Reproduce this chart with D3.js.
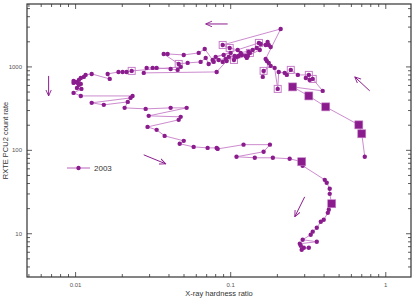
<!DOCTYPE html>
<html>
<head>
<meta charset="utf-8">
<script src="https://cdn.jsdelivr.net/npm/d3@7"></script>
<style>
  body { margin: 0; background: #fff; }
  text { font-family: "Liberation Sans", Arial, sans-serif; }
</style>
</head>
<body>
<div id="chart"></div>
<script>
// Data (time order)
var hardness = [0.732, 0.700, 0.670, 0.410, 0.319, 0.251, 0.392, 0.338, 0.323, 0.305,
  0.319, 0.271, 0.244, 0.230, 0.223, 0.204, 0.201, 0.192, 0.181, 0.163,
  0.161, 0.176, 0.171, 0.168, 0.210, 0.0888, 0.0985, 0.111, 0.127, 0.133,
  0.125, 0.105, 0.100, 0.0901, 0.0800, 0.152, 0.168, 0.176, 0.173, 0.181,
  0.156, 0.154, 0.129, 0.118, 0.109, 0.0928, 0.0765, 0.0680, 0.0622, 0.0498,
  0.0392, 0.0370, 0.0462, 0.0528, 0.0640, 0.0690, 0.0721,
  0.0777, 0.0837, 0.0888, 0.0971, 0.1061, 0.1160, 0.1387, 0.1472, 0.1306, 0.1126, 0.0942,
  0.0812, 0.0275, 0.0287,
  0.0314, 0.0333, 0.0410, 0.0455, 0.0476, 0.0230, 0.0213, 0.0201, 0.0189, 0.0161,
  0.0166, 0.0127, 0.0116, 0.0113, 0.0108, 0.0105, 0.0100, 0.0097, 0.0103, 0.0108,
  0.0097, 0.0105, 0.0102, 0.0109, 0.0097, 0.0108, 0.0233, 0.0226, 0.0127, 0.0152,
  0.0217, 0.0207, 0.0283, 0.0410, 0.0520, 0.0296, 0.0476, 0.0462, 0.0291, 0.0333,
  0.0375, 0.0498, 0.0469, 0.0577, 0.0710, 0.0812, 0.0824, 0.121, 0.179, 0.163,
  0.109, 0.143, 0.187, 0.240, 0.287, 0.291, 0.404, 0.416, 0.435, 0.435,
  0.448, 0.429, 0.423, 0.398, 0.381, 0.359, 0.338, 0.328, 0.291, 0.359,
  0.279, 0.283, 0.296, 0.319, 0.287];

var countRate = [83.7, 158, 202, 332, 449, 576, 516, 718, 699, 738,
  802, 802, 921, 802, 848, 871, 545, 973, 1028, 896,
  759, 1117, 1180, 1247, 2852, 1834, 1689, 1598, 1282, 1472,
  1354, 1213, 1472, 1392, 1318, 1939, 1834, 1834, 1993, 1736,
  1886, 1598, 1354, 1392, 1318, 1247, 1213, 1643, 1472, 1392,
  1431, 1431, 1086, 1117, 1148, 1282, 1086,
  1148, 1213, 1148, 1318, 1354, 1472, 1598, 1689, 1512, 1354, 1180,
  871, 848, 973,
  973, 973, 946, 921, 1000, 896, 871, 871, 871, 824,
  718, 824, 802, 759, 738, 699, 661, 643, 643, 626,
  680, 609, 560, 545, 488, 449, 449, 425, 371, 351,
  381, 323, 314, 323, 323, 259, 252, 232, 191, 176,
  149, 130, 120, 110, 107, 107, 104, 117, 117, 96.2,
  83.7, 81.4, 81.4, 79.2, 73.0, 65.4, 44.3, 40.8, 34.6, 30.1,
  22.9, 19.4, 17.8, 14.7, 13.9, 11.8, 10.6, 9.73, 8.48, 8.02,
  7.59, 7.18, 6.80, 6.80, 6.43];

// indices of points marked with squares
var openSquares = [7, 10, 12, 16, 19, 25, 26, 29, 31, 35, 52, 76];
var filledSquares = [1, 2, 3, 4, 5, 125, 131];

// arrows: [x0, y0, x1, y1]
var arrows = [
  [0.0956, 3273, 0.0690, 3273],
  [0.0067, 780, 0.0067, 449],
  [0.788, 516, 0.631, 759],
  [0.0275, 88.3, 0.0381, 68.9],
  [0.300, 27.7, 0.259, 16.0]
];

var xTickLabels = [0.01, 0.1, 1];
var yTickLabels = [10, 100, 1000];
var seriesName = "2003";

var svgWidth = 415, svgHeight = 301;
var margin = { top: 4, right: 4, bottom: 24, left: 27 };
var width = svgWidth - margin.left - margin.right;
var height = svgHeight - margin.top - margin.bottom;

var dark = "#8b1c8d", light = "#c67ec8";

var svg = d3.select("#chart").append("svg")
  .attr("width", svgWidth)
  .attr("height", svgHeight);

var chartGroup = svg.append("g")
  .attr("transform", `translate(${margin.left}, ${margin.top})`);

var xScale = d3.scaleLog().domain([0.00486, 1.454]).range([0, width]);
var yScale = d3.scaleLog().domain([3.03, 5680]).range([height, 0]);

// minor + major ticks
function logTicks(scale) {
  var d = scale.domain();
  return scale.ticks().filter(t => t >= d[0] && t <= d[1]);
}
function isMajor(t) {
  var l = Math.log10(t);
  return Math.abs(l - Math.round(l)) < 1e-6;
}
var xt = logTicks(xScale), yt = logTicks(yScale);

var axisColor = "#333";
var ticks = chartGroup.append("g").attr("stroke", axisColor).attr("stroke-width", 0.8);
xt.forEach(function(t) {
  var len = isMajor(t) ? 5 : 3;
  var x = xScale(t);
  ticks.append("line").attr("x1", x).attr("x2", x).attr("y1", height).attr("y2", height - len);
  ticks.append("line").attr("x1", x).attr("x2", x).attr("y1", 0).attr("y2", len);
});
yt.forEach(function(t) {
  var len = isMajor(t) ? 5 : 3;
  var y = yScale(t);
  ticks.append("line").attr("x1", 0).attr("x2", len).attr("y1", y).attr("y2", y);
  ticks.append("line").attr("x1", width).attr("x2", width - len).attr("y1", y).attr("y2", y);
});

chartGroup.append("rect")
  .attr("width", width).attr("height", height)
  .attr("fill", "none").attr("stroke", axisColor).attr("stroke-width", 1.2);

// tick labels
chartGroup.selectAll(".xlab").data(xTickLabels).enter().append("text")
  .attr("x", d => xScale(d))
  .attr("y", height + 10)
  .attr("text-anchor", "middle")
  .attr("font-size", 6)
  .attr("fill", "#555")
  .text(d => String(d));

chartGroup.selectAll(".ylab").data(yTickLabels).enter().append("text")
  .attr("x", -5)
  .attr("y", d => yScale(d) + 2)
  .attr("text-anchor", "end")
  .attr("font-size", 6)
  .attr("fill", "#555")
  .text(d => String(d));

// axis titles
chartGroup.append("text")
  .attr("x", width / 2)
  .attr("y", height + 19)
  .attr("text-anchor", "middle")
  .attr("font-size", 7.5)
  .attr("fill", "#333")
  .text("X-ray hardness ratio");

chartGroup.append("text")
  .attr("transform", "rotate(-90)")
  .attr("x", -height / 2)
  .attr("y", -19)
  .attr("text-anchor", "middle")
  .attr("font-size", 7.5)
  .attr("fill", "#333")
  .text("RXTE PCU2 count rate");

var points = hardness.map(function(h, i) { return { x: h, y: countRate[i], i: i }; });

// connecting line
var line = d3.line().x(d => xScale(d.x)).y(d => yScale(d.y));
chartGroup.append("path")
  .datum(points)
  .attr("d", line)
  .attr("fill", "none")
  .attr("stroke", light)
  .attr("stroke-width", 0.9);

// open squares
chartGroup.selectAll(".osq").data(openSquares).enter().append("rect")
  .attr("x", d => xScale(hardness[d]) - 3.5)
  .attr("y", d => yScale(countRate[d]) - 3.5)
  .attr("width", 7).attr("height", 7)
  .attr("fill", "none")
  .attr("stroke", light)
  .attr("stroke-width", 1);

// circles
chartGroup.selectAll("circle").data(points).enter().append("circle")
  .attr("cx", d => xScale(d.x))
  .attr("cy", d => yScale(d.y))
  .attr("r", 2.2)
  .attr("fill", dark);

// filled squares
chartGroup.selectAll(".fsq").data(filledSquares).enter().append("rect")
  .attr("x", d => xScale(hardness[d]) - 4)
  .attr("y", d => yScale(countRate[d]) - 4)
  .attr("width", 8).attr("height", 8)
  .attr("fill", dark)
  .attr("stroke", light)
  .attr("stroke-width", 0.6);

// arrows
svg.append("defs").append("marker")
  .attr("id", "head")
  .attr("viewBox", "0 0 10 10")
  .attr("refX", 9).attr("refY", 5)
  .attr("markerWidth", 7).attr("markerHeight", 7)
  .attr("orient", "auto")
  .append("path")
  .attr("d", "M0,1 L9,5 L0,9")
  .attr("fill", "none")
  .attr("stroke", dark)
  .attr("stroke-width", 1.3);

chartGroup.selectAll(".arrow").data(arrows).enter().append("line")
  .attr("x1", d => xScale(d[0])).attr("y1", d => yScale(d[1]))
  .attr("x2", d => xScale(d[2])).attr("y2", d => yScale(d[3]))
  .attr("stroke", dark)
  .attr("stroke-width", 1)
  .attr("marker-end", "url(#head)");

// legend
var legend = svg.append("g").attr("transform", "translate(67, 168)");
legend.append("line").attr("x1", 0).attr("x2", 23).attr("y1", 0).attr("y2", 0)
  .attr("stroke", light).attr("stroke-width", 1.2);
legend.append("circle").attr("cx", 11.5).attr("cy", 0).attr("r", 2.2).attr("fill", dark);
legend.append("text").attr("x", 27).attr("y", 3)
  .attr("font-size", 8).attr("fill", "#333").text(seriesName);
</script>
</body>
</html>
